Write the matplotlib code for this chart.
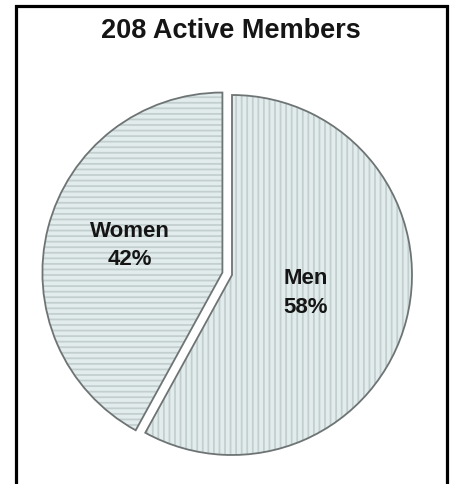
import matplotlib.pyplot as plt
from matplotlib.patches import Rectangle

# data
labels = ['Men', 'Women']
shares = [58, 42]
title = '208 Active Members'

plt.rcParams['font.family'] = ['Liberation Sans', 'DejaVu Sans']
plt.rcParams['hatch.linewidth'] = 1.3

fig = plt.figure(figsize=(4.55, 4.84), dpi=100)
ax = fig.add_axes([0, 0, 1, 1])

fill = '#e2ecec'
hatch_col = '#c3cfcf'
edge = '#6e7474'
hatches = ['|||', '---']
explode = [0, 0.055]

# filled + hatched wedges
wedges, _ = ax.pie(shares, startangle=90, counterclock=False, explode=explode,
                   radius=1.0, colors=[fill, fill],
                   wedgeprops=dict(edgecolor=hatch_col, linewidth=0))
for w, h in zip(wedges, hatches):
    w.set_hatch(h)

# outlines on top
outl, _ = ax.pie(shares, startangle=90, counterclock=False, explode=explode,
                 radius=1.0, colors=['none', 'none'],
                 wedgeprops=dict(edgecolor=edge, linewidth=1.3, fill=False))

# pixel -> data mapping: centre at (232, 275) px, radius 180 px
W, H = 455, 484
cx, cy, r = 232, 275, 180
ax.set_aspect('auto')
ax.set_xlim(-cx / r, (W - cx) / r)
ax.set_ylim(-(H - cy) / r, cy / r)
ax.axis('off')

# slice labels
ax.text(0.41, -0.10, 'Men\n58%', ha='center', va='center', fontsize=16,
        fontweight='bold', color='#151515', linespacing=1.45)
ax.text(-0.565, 0.165, 'Women\n42%', ha='center', va='center', fontsize=16,
        fontweight='bold', color='#151515', linespacing=1.45)

fig.text(231 / W, 1 - 31 / H, title, ha='center', va='center', fontsize=19.5,
         fontweight='bold', color='#151515')

# outer frame (open at the bottom)
fig.patches.append(Rectangle((16 / W, -0.05), (447 - 16) / W, 1.05 - 6 / H,
                             transform=fig.transFigure, fill=False,
                             edgecolor='black', linewidth=2.3))

fig.savefig('out.png', dpi=100)
